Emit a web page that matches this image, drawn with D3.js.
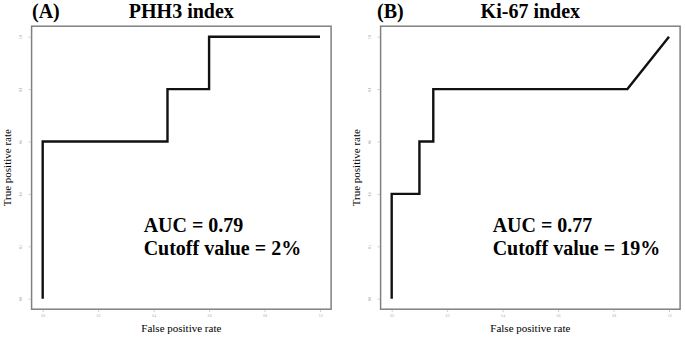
<!DOCTYPE html>
<html>
<head>
<meta charset="utf-8">
<script src="https://cdn.jsdelivr.net/npm/d3@7"></script>
<style>
  body { margin: 0; background: #fff; }
  svg { display: block; }
  text { font-family: "Liberation Serif", "Times New Roman", "DejaVu Serif", serif; }
</style>
</head>
<body>
<div id="chart"></div>
<script>
// ROC curves
const panelLetters = ["(A)", "(B)"];
const panelTitles = ["PHH3 index", "Ki-67 index"];
const fprA = [0, 0, 0.45, 0.45, 0.6, 0.6, 1];
const tprA = [0, 0.6, 0.6, 0.8, 0.8, 1, 1];
const fprB = [0, 0, 0.1, 0.1, 0.15, 0.15, 0.85, 1];
const tprB = [0, 0.4, 0.4, 0.6, 0.6, 0.8, 0.8, 1];
const aucLabels = ["AUC = 0.79", "AUC = 0.77"];
const cutoffLabels = ["Cutoff value = 2%", "Cutoff value = 19%"];
const tickValues = [0, 0.2, 0.4, 0.6, 0.8, 1.0];

const width = 685, height = 338;

const svg = d3.select("#chart").append("svg")
    .attr("width", width)
    .attr("height", height);

const panels = [
    {left: 31.6, fpr: fprA, tpr: tprA, letterX: 32},
    {left: 380.6, fpr: fprB, tpr: tprB, letterX: 377}
];

panels.forEach((p, i) => {
    let boxW = 299.5;
    let top = 26.2, bottom = 309.2;

    let x = d3.scaleLinear().domain([-0.04, 1.04]).range([p.left, p.left + boxW]);
    let y = d3.scaleLinear().domain([-0.04, 1.04]).range([bottom, top]);

    let g = svg.append("g");

    // plot frame
    g.append("rect")
        .attr("x", x(-0.04))
        .attr("y", y(1.04))
        .attr("width", x(1.04) - x(-0.04))
        .attr("height", y(-0.04) - y(1.04))
        .attr("fill", "none")
        .attr("stroke", "#808080")
        .attr("stroke-width", 1.5);

    // axes (tiny tick labels like the original)
    let xAxis = g.append("g")
        .attr("transform", "translate(0," + (bottom + 1) + ")")
        .call(d3.axisBottom(x).tickValues(tickValues).tickSize(2).tickPadding(3).tickFormat(d3.format(".1f")));
    let yAxis = g.append("g")
        .attr("transform", "translate(" + (p.left - 1) + ",0)")
        .call(d3.axisLeft(y).tickValues(tickValues).tickSize(2).tickPadding(6).tickFormat(d3.format(".1f")));

    [xAxis, yAxis].forEach(ax => {
        ax.select(".domain").remove();
        ax.selectAll("line").attr("stroke", "#aaa").attr("stroke-width", 0.6);
        ax.selectAll("text")
            .attr("fill", "#999")
            .attr("font-family", null)
            .attr("font-size", 3);
    });
    yAxis.selectAll("text")
        .attr("text-anchor", "middle")
        .attr("x", 0)
        .attr("dy", 0)
        .attr("transform", "translate(-9,0) rotate(-90)");

    // axis titles
    g.append("text")
        .attr("x", (x(-0.04) + x(1.04)) / 2)
        .attr("y", 332)
        .attr("text-anchor", "middle")
        .attr("font-size", 11)
        .text("False positive rate");

    g.append("text")
        .attr("transform", "translate(" + (p.left - 21) + "," + ((top + bottom) / 2) + ") rotate(-90)")
        .attr("text-anchor", "middle")
        .attr("font-size", 11)
        .text("True positive rate");

    // titles
    g.append("text")
        .attr("x", p.letterX)
        .attr("y", 18)
        .attr("font-weight", "bold")
        .attr("font-size", 20)
        .text(panelLetters[i]);

    g.append("text")
        .attr("x", (x(-0.04) + x(1.04)) / 2)
        .attr("y", 18)
        .attr("text-anchor", "middle")
        .attr("font-weight", "bold")
        .attr("font-size", 20)
        .text(panelTitles[i]);

    // ROC curve
    let pts = p.fpr.map((f, j) => [f, p.tpr[j]]);
    let line = d3.line().x(d => x(d[0])).y(d => y(d[1]));
    g.append("path")
        .attr("d", line(pts))
        .attr("fill", "none")
        .attr("stroke", "#111")
        .attr("stroke-width", 2.4)
        .attr("stroke-linejoin", "miter");

    // annotation
    let ax0 = x(0.364);
    g.append("text")
        .attr("x", ax0)
        .attr("y", 231.5)
        .attr("font-weight", "bold")
        .attr("font-size", 20)
        .text(aucLabels[i]);
    g.append("text")
        .attr("x", ax0)
        .attr("y", 255)
        .attr("font-weight", "bold")
        .attr("font-size", 20)
        .text(cutoffLabels[i]);
});
</script>
</body>
</html>
